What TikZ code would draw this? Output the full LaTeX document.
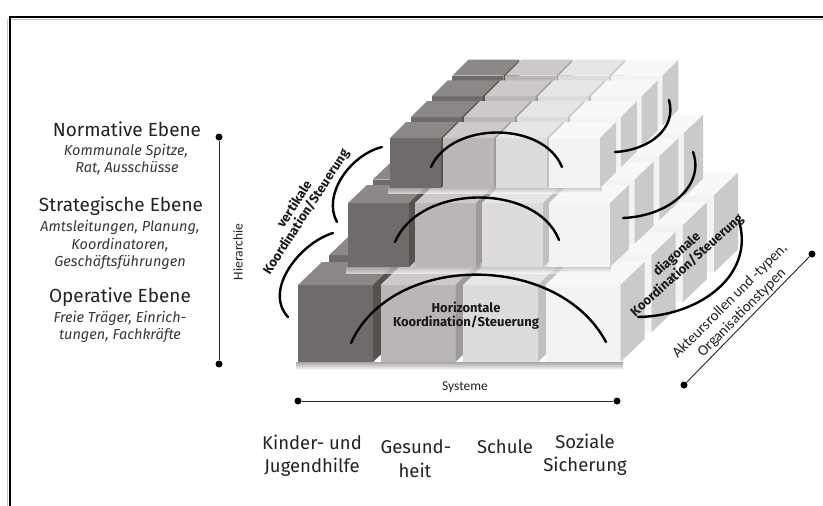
\documentclass[tikz,border=0pt]{standalone}
\usepackage{fontspec}
\setmainfont{Fira Sans}
\newfontfamily\calfont{Carlito}
\definecolor{colAf}{HTML}{6F6B6A}
\definecolor{colAt}{HTML}{8C8887}
\definecolor{colAs}{HTML}{57524F}
\definecolor{colBf}{HTML}{BAB6B5}
\definecolor{colBt}{HTML}{CCC9C8}
\definecolor{colBs}{HTML}{9E9A99}
\definecolor{colCf}{HTML}{DDDBDB}
\definecolor{colCt}{HTML}{E7E6E6}
\definecolor{colCs}{HTML}{C2C0C0}
\definecolor{colDf}{HTML}{F3F3F3}
\definecolor{colDt}{HTML}{F8F8F8}
\definecolor{colDs}{HTML}{CACACA}
\definecolor{txt}{HTML}{222222}
% x y(bottom) w h dx dy front top side
\newcommand\cubeat[9]{%
  \fill[fill=#7] ({#1},{#2}) rectangle ({#1+#3},{#2-#4});
  \fill[fill=#8] ({#1},{#2-#4}) -- ({#1+#5},{#2-#4-#6}) -- ({#1+#3+#5},{#2-#4-#6}) -- ({#1+#3},{#2-#4}) -- cycle;
  \fill[fill=#9] ({#1+#3},{#2}) -- ({#1+#3},{#2-#4}) -- ({#1+#3+#5},{#2-#4-#6}) -- ({#1+#3+#5},{#2-#6}) -- cycle;
}
% x0 y0 pitch w h dx dy
\newcommand\drawlevel[7]{%
  \foreach \j in {3,2,1,0}{
    \foreach \i/\fcol/\tcol/\scol in {0/colAf/colAt/colAs,1/colBf/colBt/colBs,2/colCf/colCt/colCs,3/colDf/colDt/colDs}{
      \cubeat{#1+\i*#3+\j*1.3*#6}{#2-\j*1.3*#7}{#4}{#5}{#6}{#7}{\fcol}{\tcol}{\scol}
    }
  }
}
\tikzset{
  arcline/.style={line width=2.4pt, black, line cap=round},
  axisline/.style={line width=0.9pt, black!85},
  dotnode/.style={circle, fill=black, inner sep=0pt, minimum size=7pt},
  title/.style={font=\fontsize{19}{22}\selectfont, text=txt, inner sep=0pt},
  sub/.style={font=\fontsize{14.5}{17}\selectfont\itshape, text=txt!90, inner sep=0pt},
  collabel/.style={font=\fontsize{18.5}{22}\selectfont, text=txt, inner sep=0pt},
  smalllabel/.style={font=\calfont\fontsize{13.5}{16}\selectfont, text=txt, inner sep=0pt},
  boldlabel/.style={font=\fontsize{13}{13.5}\selectfont\bfseries, text=black!90, inner sep=0pt},
  aktlabel/.style={font=\calfont\fontsize{15}{17}\selectfont, text=txt, inner sep=0pt, rotate=45},
}
\begin{document}
\begin{tikzpicture}[x=1pt,y=-1pt]
\useasboundingbox (0,0) rectangle (823,506);
\fill[white] (0,0) rectangle (823,506);
% frame
\draw[gray!45, line width=1.2pt] (7.5,506) -- (7.5,19.5) -- (823,19.5);
\draw[line width=2.2pt] (10,506) -- (10,17) -- (823,17);

% shadows
\shade[top color=black!35, bottom color=white] (296,362) rectangle (623,370);
% levels
\drawlevel{298}{362}{82.5}{75}{77}{24}{23}
\shade[top color=black!30, bottom color=black!0, opacity=0.6] (346,267) rectangle (611,273);
\drawlevel{348}{267}{67}{61}{64}{19}{18}
\shade[top color=black!30, bottom color=black!0, opacity=0.6] (388,188) rectangle (602,193);
\drawlevel{390}{188}{53}{51}{50}{16}{16}

% horizontal arcs
\coordinate (h1s) at (351,343); \coordinate (h1e) at (606,342);
\coordinate (h2s) at (395,242); \coordinate (h2e) at (559,240);
\coordinate (h3s) at (431,167); \coordinate (h3e) at (562,167);
\draw[arcline] (h1s) .. controls (392,252) and (558,252) .. (h1e);
\draw[arcline] (h2s) .. controls (420,183) and (537,183) .. (h2e);
\draw[arcline] (h3s) .. controls (452,121) and (543,121) .. (h3e);
% vertical arcs
\coordinate (v1s) at (382,147); \coordinate (v1e) at (337,222);
\coordinate (v2s) at (333,233); \coordinate (v2e) at (288,317);
\draw[arcline] (v1s) .. controls (350,155) and (322,195) .. (v1e);
\draw[arcline] (v2s) .. controls (300,243) and (263,290) .. (v2e);
% diagonal arcs
\coordinate (d1s) at (669,100); \coordinate (d1e) at (615,152);
\coordinate (d2s) at (693,152); \coordinate (d2e) at (623,218);
\coordinate (d3s) at (739,221); \coordinate (d3e) at (638,317);
\draw[arcline] (d1s) .. controls (677,128) and (650,150) .. (d1e);
\draw[arcline] (d2s) .. controls (705,185) and (670,216) .. (d2e);
\draw[arcline] (d3s) .. controls (755,275) and (700,316) .. (d3e);

% arc labels
\node[boldlabel] (horizA) at (466,307.5) {Horizontale};
\node[boldlabel] (horizB) at (466,323) {Koordination/Steuerung};
\node[boldlabel, rotate=57] (vertA) at (293.7,203.9) {vertikale};
\node[boldlabel, rotate=57] (vertB) at (306.3,212.1) {Koordination/Steuerung};
\node[boldlabel, rotate=42] (diagA) at (677,254.4) {diagonale};
\node[boldlabel, rotate=42] (diagB) at (687,265.6) {Koordination/Steuerung};

% left texts
\node[title] (normT) at (127,129) {Normative Ebene};
\node[sub] (normA) at (126,151) {Kommunale Spitze,};
\node[sub] (normB) at (127,168) {Rat, Ausschüsse};
\node[title] (strT) at (121,206) {Strategische Ebene};
\node[sub] (strA) at (120,227) {Amtsleitungen, Planung,};
\node[sub] (strB) at (120,245) {Koordinatoren,};
\node[sub] (strC) at (120,263) {Geschäftsführungen};
\node[title] (opT) at (120,297) {Operative Ebene};
\node[sub] (opA) at (120,318) {Freie Träger, Einrich-};
\node[sub] (opB) at (120,336) {tungen, Fachkräfte};

% hierarchy axis
\node[dotnode] (hTop) at (219,137) {};
\node[dotnode] (hBot) at (219,364) {};
\draw[axisline] (hTop) -- (hBot);
\node[smalllabel, rotate=90] (hier) at (238,252) {Hierarchie};

% systems axis
\node[dotnode] (sL) at (298,401) {};
\node[dotnode] (sR) at (617,401) {};
\draw[axisline] (sL) -- (sR);
\node[smalllabel] (sys) at (465,387) {Systeme};

% actor axis
\node[dotnode] (aL) at (684,385) {};
\node[dotnode] (aR) at (812,254) {};
\draw[axisline] (aL) -- (aR);
\node[aktlabel] (aktA) at (730,301) {Akteursrollen und -typen,};
\node[aktlabel] (aktB) at (742,313) {Organisationstypen};

% column labels
\node[collabel] (c1a) at (312,442) {Kinder- und};
\node[collabel] (c1b) at (312,467) {Jugendhilfe};
\node[collabel] (c2a) at (416,447) {Gesund-};
\node[collabel] (c2b) at (415,470) {heit};
\node[collabel] (c3a) at (505,447) {Schule};
\node[collabel] (c4a) at (585,441) {Soziale};
\node[collabel] (c4b) at (585,466) {Sicherung};
\end{tikzpicture}
\end{document}
